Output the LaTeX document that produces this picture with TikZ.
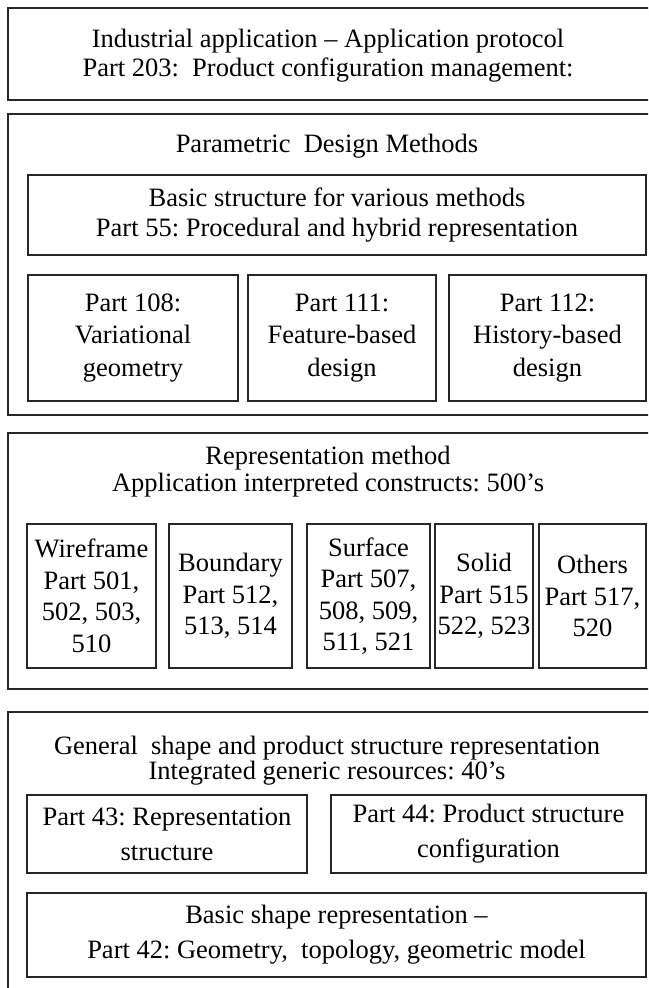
\documentclass[tikz,border=0pt]{standalone}
\usepackage{fontspec}
\setmainfont{Liberation Serif}
\frenchspacing
\begin{document}
\begin{tikzpicture}[x=1pt,y=-1pt,
  frame/.style={draw=black!85, line width=1.5pt, inner sep=0pt, minimum width=#1},
  txt/.style={align=center, inner sep=0pt, font=\fontsize{26.5}{#1}\selectfont},
  txt/.default=31]
\useasboundingbox (0,0) rectangle (648,988);
\clip (0,0) rectangle (648,988);

% Application protocol layer
\node[frame=644pt, minimum height=92pt] (ap) at (330,54) {};
\node[txt=29] (apt) at (328,55.5) {Industrial application -- Application protocol\\Part 203:\ \ Product configuration management:};

% Parametric design methods layer
\node[frame=644pt, minimum height=301pt] (pd) at (330,264.5) {};
\node[txt] (pdt) at (327,146) {Parametric\ \ Design Methods};
\node[frame=618pt, minimum height=80pt, txt=30] (p55) at (337,215) {Basic structure for various methods\\Part 55:\ Procedural and hybrid representation};
\node[frame=210pt, minimum height=126pt, txt=32.5] (p108) at (133,338) {Part 108:\\Variational\\geometry};
\node[frame=188pt, minimum height=126pt, txt=32.5] (p111) at (342,338) {Part 111:\\Feature-based\\design};
\node[frame=197pt, minimum height=126pt, txt=32.5] (p112) at (547.5,338) {Part 112:\\History-based\\design};

% Application interpreted constructs layer
\node[frame=644pt, minimum height=256pt] (rm) at (330,561) {};
\node[txt=27] (rmt) at (328,471.5) {Representation method\\Application interpreted constructs: 500's};
\node[frame=129pt, minimum height=144pt, txt=31.5] (wf) at (91.5,596) {Wireframe\\Part 501,\\502,\ 503,\\510};
\node[frame=123pt, minimum height=144pt, txt=31.5] (bd) at (230.5,596) {Boundary\\Part 512,\\513,\ 514};
\node[frame=123pt, minimum height=144pt, txt=31.5] (sf) at (368.5,596) {Surface\\Part 507,\\508,\ 509,\\511,\ 521};
\node[frame=98pt, minimum height=144pt, txt=31.5] (sd) at (484,596) {Solid\\Part 515\\522,\ 523};
\node[frame=107pt, minimum height=144pt, txt=31.5] (ot) at (592.5,596) {Others\\Part 517,\\520};

% Integrated generic resources layer
\node[frame=644pt, minimum height=288pt] (gr) at (330,856) {};
\node[txt=25] (grt) at (327,760.5) {General\ \ shape and product structure representation\\Integrated generic resources: 40's};
\node[frame=280pt, minimum height=78pt, txt=35] (p43) at (167,834) {Part 43: Representation\\structure};
\node[frame=315pt, minimum height=78pt, txt=35] (p44) at (488.5,834) {Part 44: Product structure\\configuration};
\node[frame=619pt, minimum height=84pt, txt=35] (p42) at (336.5,935) {Basic shape representation --\\Part 42: Geometry,\ \ topology, geometric model};
\end{tikzpicture}
\end{document}
